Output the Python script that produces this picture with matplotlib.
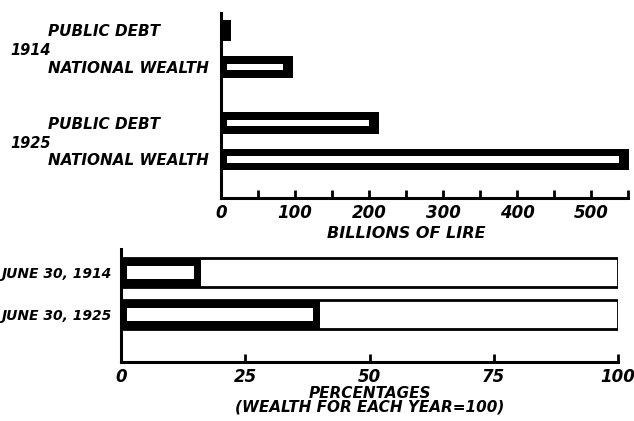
import matplotlib
matplotlib.use("Agg")
import matplotlib.pyplot as plt
from matplotlib.ticker import MultipleLocator, FixedLocator
import matplotlib.transforms as mtrans

# ---- data ----
years = ["1914", "1925"]
series_names = ["PUBLIC DEBT", "NATIONAL WEALTH"]
public_debt = [14, 213]          # billions of lire
national_wealth = [97, 552]      # billions of lire
pct_labels = ["JUNE 30, 1914", "JUNE 30, 1925"]
debt_pct = [16, 40]              # public debt as % of wealth
x_ticks_top = [0, 100, 200, 300, 400, 500]
x_ticks_bottom = [0, 25, 50, 75, 100]

FONT = dict(family="DejaVu Sans", weight="bold", style="italic")

fig = plt.figure(figsize=(6.34, 4.21), dpi=100)
W, H = 634, 421

def frame_bar(ax, y, value, height, inner_h, padl, padr, zorder=2):
    ax.barh(y, value, height=height, color="black", zorder=zorder, clip_on=False)
    inner = value - padl - padr
    if inner > 0:
        ax.barh(y, inner, left=padl, height=inner_h, color="white",
                zorder=zorder + 1, clip_on=False)

# ---- top chart ----
ax1 = fig.add_axes([221 / W, 1 - 198 / H, (628 - 221) / W, (198 - 13) / H])
group_gap = 2.55
labels_top, pos_top = [], []
blend = mtrans.blended_transform_factory(fig.transFigure, ax1.transData)
for gi, yr in enumerate(years):
    vals = [public_debt[gi], national_wealth[gi]]
    for si, name in enumerate(series_names):
        p = gi * group_gap + si
        pos_top.append(p)
        labels_top.append(name)
        frame_bar(ax1, p, vals[si], 0.6, 0.18, 8.1, 13.5)
    ax1.text(10 / W, gi * group_gap + 0.55, yr, transform=blend,
             ha="left", va="center", fontsize=10.5, **FONT)

ax1.set_xlim(0, 550)
ax1.set_ylim(4.61, -0.48)
ax1.set_yticks(pos_top)
ax1.set_yticklabels(labels_top, fontsize=11, ha="left", **FONT)
ax1.tick_params(axis="y", length=0, pad=(221 - 48) * 0.72)
ax1.xaxis.set_major_locator(FixedLocator(x_ticks_top))
ax1.xaxis.set_minor_locator(MultipleLocator(50))
ax1.set_xticklabels([str(t) for t in x_ticks_top], fontsize=12, **FONT)
ax1.tick_params(axis="x", which="both", direction="in", length=6, width=2, pad=4)
ax1.set_xlabel("BILLIONS OF LIRE", fontsize=11.5, **FONT)
ax1.xaxis.set_label_coords(0.455, -0.15)
for s in ["top", "right"]:
    ax1.spines[s].set_visible(False)
for s in ["left", "bottom"]:
    ax1.spines[s].set_linewidth(2.2)

# ---- bottom chart ----
ax2 = fig.add_axes([121 / W, 1 - 362 / H, (618 - 121) / W, (362 - 249) / H])
for i, lab in enumerate(pct_labels):
    ax2.barh(i, 100, height=0.69, color="white", edgecolor="black",
             linewidth=2, zorder=1)
    frame_bar(ax2, i, debt_pct[i], 0.69, 0.33, 1.2, 1.4)
ax2.set_xlim(0, 100)
ax2.set_ylim(2.13, -0.56)
ax2.set_yticks(range(len(pct_labels)))
ax2.set_yticklabels(pct_labels, fontsize=10, **FONT)
ax2.tick_params(axis="y", length=0, pad=7)
ax2.set_xticks(x_ticks_bottom)
ax2.set_xticklabels([str(t) for t in x_ticks_bottom], fontsize=12, **FONT)
ax2.tick_params(axis="x", direction="in", length=6, width=2, pad=4)
ax2.set_xlabel("PERCENTAGES\n(WEALTH FOR EACH YEAR=100)", fontsize=11,
               linespacing=0.9, labelpad=0, **FONT)
for s in ["top", "right"]:
    ax2.spines[s].set_visible(False)
for s in ["left", "bottom"]:
    ax2.spines[s].set_linewidth(2.2)

fig.savefig("out.png", dpi=100)
